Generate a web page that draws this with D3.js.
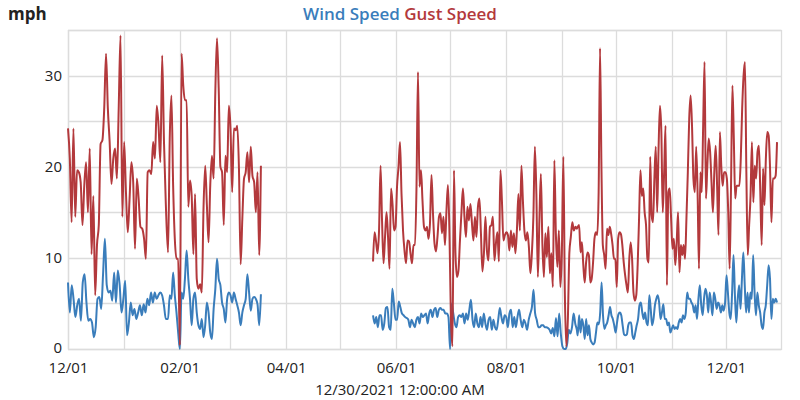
<!DOCTYPE html>
<html>
<head>
<meta charset="utf-8">
<script src="https://cdn.jsdelivr.net/npm/d3@7"></script>
<style>
  body { margin: 0; background: #fff; }
  svg { display: block; font-family: "Open Sans", "Noto Sans", sans-serif; }
</style>
</head>
<body>
<svg id="chart" width="800" height="400"></svg>
<script>
// ---------- DATA ----------
// Each block of readings is evenly spaced between its first and last timestamp.
const periodA1 = ["2020-12-01T00:00", "2021-01-24T06:00"];
const periodA2 = ["2021-01-25T12:00", "2021-03-18T00:00"];
const periodB1 = ["2021-05-19T05:00", "2021-09-09T06:00"];
const periodB2 = ["2021-09-09T18:00", "2021-12-29T07:00"];

const windA1 = [7.3, 4.0, 7.0, 5.5, 3.5, 4.8, 5.5, 3.1, 7.3, 8.2, 5.1, 3.1, 3.3, 2.9, 1.3, 2.4, 5.5, 5.7, 4.4, 8.2,
  12.1, 7.0, 6.2, 6.4, 5.3, 8.4, 5.1, 8.6, 7.0, 4.0, 5.5, 7.5, 1.5, 2.9, 5.1, 3.7, 4.4, 3.3, 4.0, 4.8,
  3.7, 4.9, 4.0, 5.5, 4.8, 6.2, 5.1, 6.2, 5.5, 5.9, 6.2, 5.9, 4.8, 3.3];
const gustA1 = [24.2, 20.9, 13.9, 24.2, 14.5, 19.6, 19.4, 18.3, 13.6, 18, 20.5, 15, 22, 10.4, 16.8, 5.9, 11.4, 13.6, 22.5, 22.9,
  26.4, 32.4, 26.4, 22.7, 18.1, 20.9, 22, 18.7, 26.4, 34.4, 14.5, 22.7, 17.2, 12.8, 16.5, 20.5, 18.3, 11, 18.7, 16.5,
  13.4, 13.2, 12.1, 9.9, 19.4, 19.6, 19.2, 22.7, 20.9, 26.7, 24.5, 20.5, 32.2, 22.7, 16];

const windA2 = [3.3, 5.9, 5.5, 8.4, 5.9, 4.0, 1.8, 0, 6.2, 5.5, 7.7, 10.8, 7.7, 5.5, 2.6, 5.5, 6.2, 4.0, 2.6, 2.2,
  3.3, 1.3, 2.6, 5.1, 4.0, 1.8, 1.1, 4.4, 6.6, 9.9, 7.7, 7.0, 5.1, 4.4, 2.9, 5.5, 6.2, 5.9, 5.1, 6.2,
  5.5, 4.8, 4.0, 2.6, 4.0, 4.8, 5.5, 8.2, 6.2, 4.2, 5.5, 5.7, 5.5, 4.9, 2.6, 6.0];
const gustA2 = [10.6, 23.1, 27.8, 18, 12.1, 9.9, 9.9, 0.4, 32.4, 28.9, 27.3, 27.3, 15.6, 18.5, 16.8, 10.4, 17, 7.7, 6.6, 7.1,
  6.2, 15.4, 20.1, 15.8, 11.7, 18, 21.2, 18.7, 28.2, 34.1, 28.6, 20, 19.4, 13.6, 21.2, 19.4, 26.7, 24.2, 17.2, 24.2,
  24, 24.5, 19.8, 9.3, 14.3, 18.7, 19.4, 21.6, 18.3, 22.2, 19, 18.3, 15, 19.4, 10.3, 20.1];

const windB1 = [3.7, 2.8, 3.5, 2.4, 3.7, 3.7, 2.1, 2.8, 4.5, 4.6, 2.4, 2.1, 6.6, 5, 3.2, 3.2, 5.2, 4.6, 3.9, 3.7,
  3.5, 3.4, 3.2, 2.4, 3.2, 2.8, 2.4, 3.2, 3.5, 2.8, 3.9, 3.5, 3.7, 3.9, 2.8, 3.9, 4.3, 3.5, 4.3, 4.5,
  3.5, 4.3, 4.5, 4.3, 4.3, 3.9, 3.9, 3.5, 0, 5, 3.9, 2.8, 2.4, 3.5, 3.7, 3.5, 3.9, 2.8, 3.9, 3.2,
  4.3, 5.4, 3.2, 2.4, 3.9, 2.8, 2.4, 3.5, 2.4, 3.9, 2.8, 2.1, 3.2, 3.5, 2.1, 3.2, 2.4, 2.1, 3.2, 4.5,
  3.5, 2.8, 3.7, 3.5, 2.4, 3.9, 4.3, 2.4, 3.5, 2.4, 3.5, 4.3, 3.2, 2.4, 3.2, 2.8, 2.1, 3.2, 3.9, 4.6,
  6.5, 3.9, 3.2, 2.4, 2.4, 2.6, 2.6, 2.4, 2.4, 2.3, 2.1, 1.7, 2.3, 1.4, 3.4, 1.4, 3.9, 1.7, 0.3, 0,
  0, 0.6, 2.1, 1.7, 2.4, 3.9, 2.8, 2.1];
const gustB1 = [9.6, 12.8, 11.8, 10.5, 13, 20.1, 14.1, 9.4, 12.3, 15, 12.3, 8.8, 17.6, 15.9, 13, 13.4, 17.8, 20, 22.7, 17,
  13, 10.8, 9.4, 11.9, 11.8, 10.5, 9.4, 11.4, 11.4, 17.8, 30.4, 17.8, 19.6, 16.3, 13.4, 13, 13.4, 12.1, 13.8, 19.1,
  14.9, 11.6, 10.7, 12.3, 14.5, 14.9, 12.7, 14.5, 11.4, 15.2, 18, 12.7, 3.2, 0.3, 19.6, 10.5, 7.9, 8.6, 11.9, 15,
  17.6, 14.5, 12.3, 15.6, 14.1, 15.9, 13.8, 11.9, 14.5, 12.3, 15.6, 16.5, 12.7, 8.5, 10.5, 14.5, 10.8, 9.7, 13.4, 13.6,
  14.5, 9.7, 11.6, 12.8, 9.6, 19.6, 16.3, 11.9, 12.5, 12.8, 12.5, 10.8, 13, 11.2, 12.7, 10.5, 13, 17, 13, 20.1,
  16.3, 13, 11.9, 12.8, 11.2, 8.3, 10.5, 14.5, 22.2, 17, 7.9, 14.1, 19.2, 11.6, 7.9, 12.7, 10.1, 13.4, 8.3, 10.5,
  6.8, 20.7, 12.7, 9, 13, 6.8, 10.5, 21.1, 6.1, 0.3, 3.2, 10.5, 12.3, 13.9, 13, 13.4, 13.2];

const windB2 = [1.5, 3.7, 1.8, 3.3, 2.6, 1.1, 3.3, 1.5, 2.6, 1.1, 0.7, 0.5, 0.7, 1.8, 2.9, 2.7, 4, 7.3, 3.7, 2.2,
  2.6, 2.9, 3.7, 4.6, 3.7, 3.3, 2.6, 1.8, 2.9, 3.8, 4, 3.7, 2.6, 1.6, 1.5, 1.6, 2.6, 2.9, 2.9, 1.5,
  1.1, 1.8, 2.6, 3.3, 4.8, 5.1, 4, 3.3, 4, 2.9, 2.6, 5.9, 4.4, 2.6, 3.3, 4.8, 5.5, 5.9, 5.1, 3.3,
  4, 4.9, 3.3, 3.3, 2.6, 2.9, 1.8, 2.2, 2.6, 2.2, 2.4, 2.2, 2.9, 3.3, 2.9, 3.7, 3.3, 4, 6.2, 5.5,
  5.5, 5.1, 4.8, 4, 4.8, 3.3, 5.5, 7, 4.8, 3.7, 5.5, 6.6, 5.9, 4, 6.2, 5.1, 3.7, 6.2, 5.5, 4.4,
  5.1, 4.8, 4, 4.8, 4.2, 5.1, 8.1, 6.2, 4, 3.3, 6.2, 10.3, 5.9, 2.9, 5.5, 7, 4.4, 7.7, 10.6, 7,
  4, 6.2, 4, 6.2, 5.5, 10.3, 6.2, 3.7, 6.2, 4.8, 4, 2.6, 2.2, 4, 4.8, 7, 9.2, 7.7, 3.3, 5.5,
  5.1, 5.5, 5.1];
const gustB2 = [13.4, 13.6, 10.6, 11.7, 9.2, 7.3, 9.5, 10.6, 10.3, 7.3, 7.7, 9.5, 12.1, 12.8, 12.5, 17.2, 33, 20.1, 11.4, 10.3,
  8.8, 13.2, 12.5, 13.4, 12.6, 11.4, 9.9, 9.9, 6.8, 12.1, 12.8, 12.6, 11.4, 9.5, 8.1, 7, 6.2, 9.9, 11.7, 9.9,
  6.2, 5.3, 5.9, 9.2, 14.3, 19.6, 16.8, 17.6, 15, 13.6, 9.9, 9.5, 21.1, 14.7, 13.9, 18.7, 22.2, 15, 22, 26.7,
  23.8, 15, 19.4, 24.5, 7, 17.2, 17.6, 14.3, 11, 12.1, 9.2, 11.7, 15, 8.4, 11.4, 10.3, 11.4, 9.9, 14.3, 19.4,
  25.3, 27.8, 24.5, 18.7, 17.2, 22.2, 17.2, 8.8, 19.4, 17.2, 24.5, 31.5, 16.5, 20.1, 23.1, 21.6, 18.3, 15, 19.4, 22.3,
  17.9, 12.5, 23.8, 20.1, 17.9, 19.4, 19.4, 18.7, 15, 8.8, 17.9, 28.9, 23.1, 16.5, 17.9, 17.9, 17.9, 20.9, 26.4, 30,
  31.5, 19.4, 10.3, 13.6, 16.8, 22.7, 16.1, 20.1, 18.7, 21.6, 22.3, 17.2, 11.4, 19.8, 15.8, 20.9, 23.8, 23.4, 19.8, 13.9,
  18.7, 18.7, 19, 22.7];

const xDomain = ["2020-12-01T00:00", "2021-12-31T12:00"];
const xTickDates = ["2020-12-01", "2021-02-01", "2021-04-01", "2021-06-01", "2021-08-01", "2021-10-01", "2021-12-01"];
const yTickValues = [0, 10, 20, 30];
const yGridValues = [0, 5, 10, 15, 20, 25, 30, 35];
const seriesNames = ["Wind Speed", "Gust Speed"];
const seriesColors = ["#3a7dbb", "#b3393c"];
const yUnit = "mph";
const xTitle = "12/30/2021 12:00:00 AM";

// ---------- CHART ----------
const W = 800, H = 400;
const margin = { top: 30, right: 19, bottom: 51, left: 68 };
const iw = W - margin.left - margin.right;
const ih = H - margin.top - margin.bottom;

const parseT = d3.timeParse("%Y-%m-%dT%H:%M");
const parseD = d3.timeParse("%Y-%m-%d");

function spread(period, values) {
  const t0 = parseT(period[0]), t1 = parseT(period[1]);
  const n = values.length;
  return values.map((v, i) => ({ date: new Date(+t0 + (t1 - t0) * i / (n - 1)), value: v }));
}
const gap = { date: null, value: null };
const windData = [...spread(periodA1, windA1), ...spread(periodA2, windA2), gap,
                  ...spread(periodB1, windB1), ...spread(periodB2, windB2)];
const gustData = [...spread(periodA1, gustA1), ...spread(periodA2, gustA2), gap,
                  ...spread(periodB1, gustB1), ...spread(periodB2, gustB2)];

const x = d3.scaleTime().domain(xDomain.map(parseT)).range([0, iw]);
const y = d3.scaleLinear().domain([0, 35]).range([ih, 0]);

const svg = d3.select("#chart");
const g = svg.append("g").attr("transform", `translate(${margin.left},${margin.top})`);

// grid
const monthLines = d3.timeMonth.range(parseT(xDomain[0]), parseT(xDomain[1]));
g.append("g").selectAll("line").data(monthLines).join("line")
  .attr("x1", d => Math.round(x(d)) + 0.5).attr("x2", d => Math.round(x(d)) + 0.5)
  .attr("y1", 0).attr("y2", ih)
  .attr("stroke", "#dcdcdc").attr("stroke-width", 1.3);
g.append("g").selectAll("line").data(yGridValues).join("line")
  .attr("x1", 0).attr("x2", iw)
  .attr("y1", d => Math.round(y(d)) + 0.5).attr("y2", d => Math.round(y(d)) + 0.5)
  .attr("stroke", "#dcdcdc").attr("stroke-width", 1.3);
g.append("rect").attr("x", 0.5).attr("y", 0.5).attr("width", iw).attr("height", ih)
  .attr("fill", "none").attr("stroke", "#dcdcdc").attr("stroke-width", 1.3);

// axes
const xAxis = d3.axisBottom(x).tickValues(xTickDates.map(parseD))
  .tickFormat(d3.timeFormat("%m/%d")).tickSize(0).tickPadding(13);
const gx = g.append("g").attr("transform", `translate(0,${ih})`).call(xAxis);
gx.select(".domain").remove();
gx.selectAll("text").attr("font-size", 15).attr("fill", "#222").style("font-family", '"Open Sans", sans-serif');

const yAxis = d3.axisLeft(y).tickValues(yTickValues).tickSize(0).tickPadding(6);
const gy = g.append("g").call(yAxis);
gy.select(".domain").remove();
gy.selectAll("text").attr("font-size", 15).attr("fill", "#222").style("font-family", '"Open Sans", sans-serif');
gy.selectAll(".tick").filter(d => d === 0).select("text").attr("dy", "0.2em");

// lines
const line = d3.line()
  .defined(d => d.value !== null)
  .x(d => x(d.date)).y(d => y(d.value))
  .curve(d3.curveMonotoneX);

[windData, gustData].forEach((data, i) => {
  g.append("path").datum(data)
    .attr("fill", "none").attr("stroke", seriesColors[i])
    .attr("stroke-width", 2).attr("stroke-linejoin", "round")
    .attr("d", line);
});

// title / legend
const title = svg.append("text").attr("x", 400).attr("y", 20).attr("text-anchor", "middle")
  .attr("font-size", 17).attr("font-weight", 600);
seriesNames.forEach((name, i) => {
  title.append("tspan").attr("fill", seriesColors[i]).text((i > 0 ? " " : "") + name);
});

svg.append("text").attr("x", 8).attr("y", 20).attr("font-size", 17).attr("font-weight", 700)
  .attr("fill", "#222").text(yUnit);

svg.append("text").attr("x", 400).attr("y", 395).attr("text-anchor", "middle")
  .attr("font-size", 15).attr("fill", "#222").text(xTitle);
</script>
</body>
</html>
